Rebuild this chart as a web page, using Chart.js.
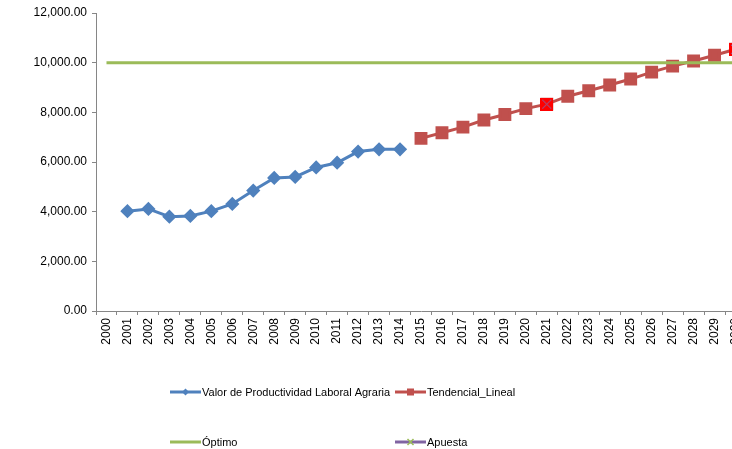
<!DOCTYPE html>
<html>
<head>
<meta charset="utf-8">
<script src="https://cdn.jsdelivr.net/npm/chart.js@4"></script>
<style>
  html, body { margin: 0; padding: 0; overflow: hidden; background: #fff; }
  #wrap { width: 756px; height: 449px; }
</style>
</head>
<body>
<div id="wrap"><canvas id="productividad" width="756" height="449"></canvas></div>
<script>
const years = ['2000', '2001', '2002', '2003', '2004', '2005', '2006', '2007', '2008', '2009',
  '2010', '2011', '2012', '2013', '2014', '2015', '2016', '2017', '2018', '2019',
  '2020', '2021', '2022', '2023', '2024', '2025', '2026', '2027', '2028', '2029', '2030'];

const productividad = [null, 4020, 4110, 3800, 3830, 4020, 4310, 4850, 5360, 5400,
  5780, 5970, 6420, 6510, 6510, null, null, null, null, null,
  null, null, null, null, null, null, null, null, null, null, null];

const tendencial = [null, null, null, null, null, null, null, null, null, null,
  null, null, null, null, null, 6950, 7175, 7405, 7690, 7910,
  8150, 8330, 8650, 8870, 9100, 9340, 9620, 9860, 10070, 10300, 10540];

const optimo = [10000, 10000, 10000, 10000, 10000, 10000, 10000, 10000, 10000, 10000,
  10000, 10000, 10000, 10000, 10000, 10000, 10000, 10000, 10000, 10000,
  10000, 10000, 10000, 10000, 10000, 10000, 10000, 10000, 10000, 10000, 10000];

const apuesta = [null, null, null, null, null, null, null, null, null, null,
  null, null, null, null, null, null, null, null, null, null,
  null, 8330, null, null, null, null, null, null, null, null, 10540];

const blue = '#4F81BD', red = '#C0504D', green = '#9BBB59', purple = '#8064A2';

Chart.defaults.font.family = "'Liberation Sans', Arial, sans-serif";
Chart.defaults.color = '#000';

// red square crossed by the purple x, used for the Apuesta points
function apuestaMarker() {
  const c = document.createElement('canvas');
  c.width = 13; c.height = 13;
  const g = c.getContext('2d');
  g.fillStyle = '#FF0000';
  g.fillRect(0, 0, 13, 13);
  g.strokeStyle = '#7B6FB5';
  g.lineWidth = 1;
  g.beginPath();
  g.moveTo(2, 2); g.lineTo(11, 11);
  g.moveTo(11, 2); g.lineTo(2, 11);
  g.stroke();
  return c;
}

// two-column legend under the axis, Excel style: line with the marker in the middle
const legendSlots = [[170, 392], [395, 392], [170, 442], [395, 442]];
const legendPlugin = {
  id: 'excelLegend',
  afterDraw(chart) {
    const ctx = chart.ctx;
    ctx.save();
    chart.data.datasets.forEach((ds, i) => {
      const [x, y] = legendSlots[i];
      ctx.strokeStyle = ds.borderColor;
      ctx.lineWidth = 3;
      ctx.beginPath();
      ctx.moveTo(x, y);
      ctx.lineTo(x + 31, y);
      ctx.stroke();
      const mx = x + 15.5;
      if (ds.legendMarker === 'diamond') {
        ctx.fillStyle = ds.borderColor;
        ctx.beginPath();
        ctx.moveTo(mx, y - 3.5); ctx.lineTo(mx + 3.5, y); ctx.lineTo(mx, y + 3.5); ctx.lineTo(mx - 3.5, y);
        ctx.closePath();
        ctx.fill();
      } else if (ds.legendMarker === 'square') {
        ctx.fillStyle = ds.borderColor;
        ctx.fillRect(mx - 3.5, y - 3.5, 7, 7);
      } else if (ds.legendMarker === 'cross') {
        ctx.strokeStyle = green;
        ctx.lineWidth = 1.5;
        ctx.beginPath();
        ctx.moveTo(mx - 3, y - 3); ctx.lineTo(mx + 3, y + 3);
        ctx.moveTo(mx + 3, y - 3); ctx.lineTo(mx - 3, y + 3);
        ctx.stroke();
      }
      ctx.fillStyle = '#000';
      ctx.font = "11px 'Liberation Sans', Arial, sans-serif";
      ctx.textBaseline = 'middle';
      ctx.textAlign = 'left';
      ctx.fillText(ds.label, x + 32, y + 0.5);
    });
    ctx.restore();
  }
};

new Chart('productividad', {
  type: 'line',
  data: {
    labels: years,
    datasets: [
      {
        label: 'Valor de Productividad Laboral Agraria',
        data: productividad,
        borderColor: blue,
        backgroundColor: blue,
        borderWidth: 3,
        pointStyle: 'rectRot',
        pointRadius: 5,
        legendMarker: 'diamond',
        order: 3
      },
      {
        label: 'Tendencial_Lineal',
        data: tendencial,
        borderColor: red,
        backgroundColor: red,
        borderWidth: 3,
        pointStyle: 'rect',
        pointRadius: 7,
        legendMarker: 'square',
        order: 2
      },
      {
        label: 'Óptimo',
        data: optimo,
        borderColor: green,
        backgroundColor: green,
        borderWidth: 3,
        pointRadius: 0,
        legendMarker: 'none',
        order: 1
      },
      {
        label: 'Apuesta',
        data: apuesta,
        borderColor: purple,
        backgroundColor: purple,
        borderWidth: 3,
        showLine: false,
        pointStyle: apuestaMarker(),
        pointRadius: 7,
        legendMarker: 'cross',
        order: 0
      }
    ]
  },
  options: {
    responsive: false,
    animation: false,
    layout: { padding: { top: 13, left: 0, right: 2, bottom: 0 } },
    plugins: {
      legend: { display: false },
      tooltip: { enabled: false }
    },
    scales: {
      x: {
        offset: true,
        grid: { offset: true, drawOnChartArea: false, tickLength: 4, color: '#868686' },
        border: { color: '#868686' },
        ticks: { minRotation: 90, maxRotation: 90, autoSkip: false, padding: 3, font: { size: 12 } },
        afterFit(scale) { scale.height = 138; }
      },
      y: {
        min: 0,
        max: 12000,
        grid: { drawOnChartArea: false, tickLength: 4, color: '#868686' },
        border: { color: '#868686' },
        ticks: {
          stepSize: 2000,
          padding: 5,
          font: { size: 12 },
          callback: v => v.toLocaleString('en-US', { minimumFractionDigits: 2, maximumFractionDigits: 2 })
        },
        afterFit(scale) { scale.width = 96; }
      }
    }
  },
  plugins: [legendPlugin]
});
</script>
</body>
</html>
